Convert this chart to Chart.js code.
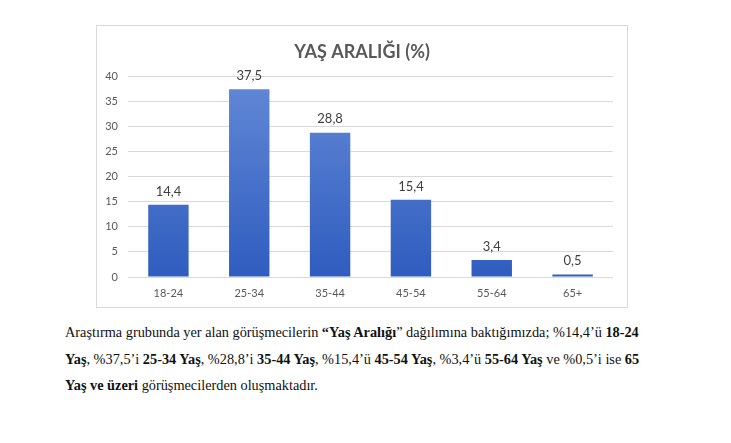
<!DOCTYPE html>
<html lang="tr">
<head>
<meta charset="utf-8">
<script src="https://cdn.jsdelivr.net/npm/chart.js@4.4.0/dist/chart.umd.min.js"></script>
<style>
    body { margin: 0; background: #fff; width: 731px; height: 443px; position: relative; overflow: hidden; }
    .chart-box { position: absolute; left: 96px; top: 25px; width: 530px; height: 281px; border: 1px solid #d9d9d9; }
    .text { position: absolute; left: 65px; top: 319px; font-family: "Liberation Serif", "Times New Roman", serif; font-size: 14.3px; line-height: 26.5px; color: #111; white-space: nowrap; }
</style>
</head>
<body>
<div class="chart-box"><canvas id="ageChart" width="530" height="281"></canvas></div>
<div class="text">
    Araştırma grubunda yer alan görüşmecilerin <b>“Yaş Aralığı</b>” dağılımına baktığımızda; %14,4’ü <b>18-24</b><br>
    <b>Yaş</b>, %37,5’i <b>25-34 Yaş</b>, %28,8’i <b>35-44 Yaş</b>, %15,4’ü <b>45-54 Yaş</b>, %3,4’ü <b>55-64 Yaş</b> ve %0,5’i ise <b>65</b><br>
    <b>Yaş ve üzeri</b> görüşmecilerden oluşmaktadır.
</div>
<script>
const ageGroups = ['18-24', '25-34', '35-44', '45-54', '55-64', '65+'];
const agePercents = [14.4, 37.5, 28.8, 15.4, 3.4, 0.5];
const yTicks = [0, 5, 10, 15, 20, 25, 30, 35, 40];

// values above the bars, Turkish decimal comma
const valueLabels = {
    id: 'valueLabels',
    afterDatasetsDraw(chart) {
        const ctx = chart.ctx;
        const meta = chart.getDatasetMeta(0);
        ctx.save();
        ctx.font = '13px Lato, "Open Sans", sans-serif';
        ctx.fillStyle = '#404040';
        ctx.textAlign = 'center';
        ctx.textBaseline = 'bottom';
        meta.data.forEach((bar, i) => {
            ctx.fillText(agePercents[i].toFixed(1).replace('.', ','), bar.x, bar.y - 7);
        });
        ctx.restore();
    }
};

function barGradient(context) {
    const chart = context.chart;
    const area = chart.chartArea;
    if (!area) return '#4472c4';
    const g = chart.ctx.createLinearGradient(0, area.top, 0, area.bottom);
    g.addColorStop(0, '#6389d6');
    g.addColorStop(1, '#2f5dbf');
    return g;
}

new Chart(document.getElementById('ageChart'), {
    type: 'bar',
    data: {
        labels: ageGroups,
        datasets: [{
            data: agePercents,
            backgroundColor: barGradient,
            borderWidth: 0,
            barPercentage: 0.5,
            categoryPercentage: 1
        }]
    },
    options: {
        responsive: false,
        animation: false,
        layout: { padding: { top: 15, right: 0, left: 0, bottom: 0 } },
        plugins: {
            legend: { display: false },
            tooltip: { enabled: false },
            title: {
                display: true,
                text: 'YAŞ ARALIĞI (%)',
                color: '#595959',
                font: { family: 'Lato, "Open Sans", sans-serif', size: 18, weight: 'bold' },
                padding: { top: 0, bottom: 14 }
            }
        },
        scales: {
            y: {
                min: 0,
                max: 40,
                afterBuildTicks: (axis) => { axis.ticks = yTicks.map(v => ({ value: v })); },
                afterFit: (axis) => { axis.width = 31; },
                border: { display: false },
                grid: { color: '#d9d9d9', drawTicks: false },
                ticks: { color: '#595959', padding: 10, font: { family: 'Lato, "Open Sans", sans-serif', size: 11 } }
            },
            // empty right axis, just keeps the margin so the title stays centred on the box
            yRight: {
                position: 'right',
                afterFit: (axis) => { axis.width = 14; },
                border: { display: false },
                grid: { display: false, drawTicks: false },
                ticks: { display: false }
            },
            x: {
                afterFit: (axis) => { axis.height = 30; },
                border: { display: false },
                grid: { display: false, drawTicks: false },
                ticks: { color: '#595959', padding: 10, font: { family: 'Lato, "Open Sans", sans-serif', size: 11 } }
            }
        }
    },
    plugins: [valueLabels]
});
</script>
</body>
</html>
